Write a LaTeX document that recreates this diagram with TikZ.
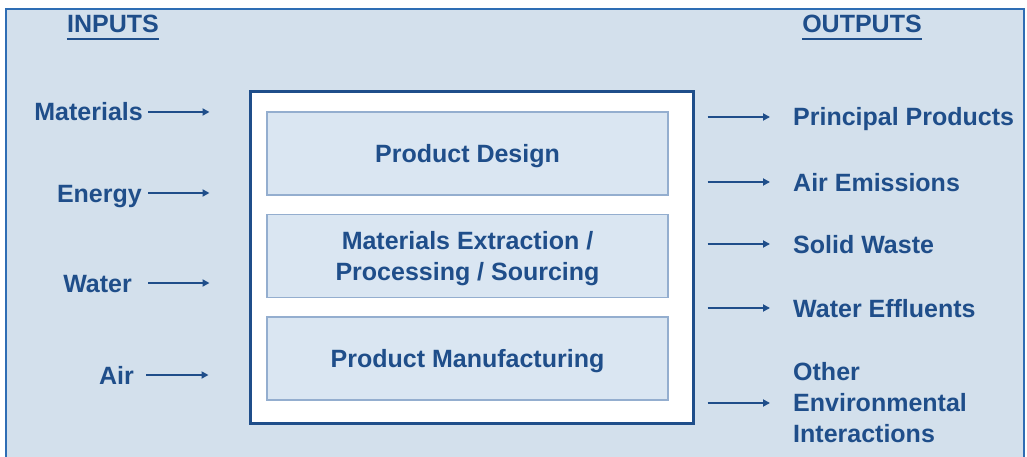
\documentclass[tikz,border=0pt]{standalone}
\usepackage{fontspec}
\setmainfont{Liberation Sans}
\usepackage{xcolor}
\usetikzlibrary{
    arrows.meta,
    positioning
}
\definecolor{panelblue}{HTML}{D3E0EC}
\definecolor{edgeblue}{HTML}{2E6DB4}
\definecolor{inkblue}{HTML}{1F4E8A}
\definecolor{stagefill}{HTML}{DAE6F2}
\definecolor{stageline}{HTML}{94AECF}

\tikzset{
    flow/.style={-{Triangle[length=7pt, width=7pt]}, line width=2.8pt, draw=inkblue},
    heading/.style={anchor=base, inner sep=0pt, text=inkblue},
    headrule/.style={line width=2.4pt, draw=inkblue},
    inlabel/.style={anchor=east, inner sep=2pt, text=inkblue, text height=18pt, text depth=0pt},
    outlabel/.style={anchor=west, inner sep=2pt, text=inkblue, text height=18pt, text depth=0pt},
    stagebox/.style={draw=stageline, fill=stagefill, line width=1.5pt, minimum width=401pt,
        minimum height=83pt, align=center, text=inkblue, text depth=0pt}
}

\begin{document}
\begin{tikzpicture}[x=1pt, y=-1pt, font=\fontsize{25}{31}\selectfont\bfseries]
    \useasboundingbox (0,0) rectangle (1027,457);
    \fill[white] (0,0) rectangle (1027,457);
    \filldraw[fill=panelblue, draw=edgeblue, line width=2pt] (6,9) rectangle (1024,480);

    % headings
    \node[heading] (inputs) at (113,33) {INPUTS};
    \node[heading] (outputs) at (862,33) {OUTPUTS};
    \draw[headrule] ([yshift=-6pt]inputs.base west) -- ([yshift=-6pt]inputs.base east);
    \draw[headrule] ([yshift=-6pt]outputs.base west) -- ([yshift=-6pt]outputs.base east);

    % process
    \node[draw=inkblue, fill=white, line width=3pt, minimum width=443pt, minimum height=331pt]
        (frame) at (471.5,257.5) {};
    \node[stagebox] (design) at (467.5,153.5) {Product Design};
    \node[stagebox] (extract) at (467.5,256) {Materials Extraction /\\Processing / Sourcing};
    \node[stagebox] (manufacture) at (467.5,358.5) {Product Manufacturing};

    % inputs
    \node[inlabel] (materials) at (145,112) {Materials};
    \node[inlabel] (energy) at (144,193) {Energy};
    \node[inlabel] (water) at (134,283) {Water};
    \node[inlabel] (air) at (136,375) {Air};

    % outputs
    \node[outlabel] (principal) at (791,117) {Principal Products};
    \node[outlabel] (emissions) at (791,182) {Air Emissions};
    \node[outlabel] (solid) at (791,244) {Solid Waste};
    \node[outlabel] (effluents) at (791,308) {Water Effluents};
    \node[anchor=west, inner sep=2pt, text=inkblue, align=left] (other) at (791,403)
        {Other\\Environmental\\Interactions};

    \draw
    (materials) edge[flow, shorten <=3pt, shorten >=39pt] (frame.west |- materials)
    (energy) edge[flow, shorten <=4pt, shorten >=39pt] (frame.west |- energy)
    (water) edge[flow, shorten <=14pt, shorten >=39pt] (frame.west |- water)
    (air) edge[flow, shorten <=10pt, shorten >=40pt] (frame.west |- air)
    (frame.east |- principal) edge[flow, shorten <=13pt, shorten >=21pt] (principal)
    (frame.east |- emissions) edge[flow, shorten <=13pt, shorten >=21pt] (emissions)
    (frame.east |- solid) edge[flow, shorten <=13pt, shorten >=21pt] (solid)
    (frame.east |- effluents) edge[flow, shorten <=13pt, shorten >=21pt] (effluents)
    (frame.east |- other) edge[flow, shorten <=13pt, shorten >=21pt] (other);
\end{tikzpicture}
\end{document}
